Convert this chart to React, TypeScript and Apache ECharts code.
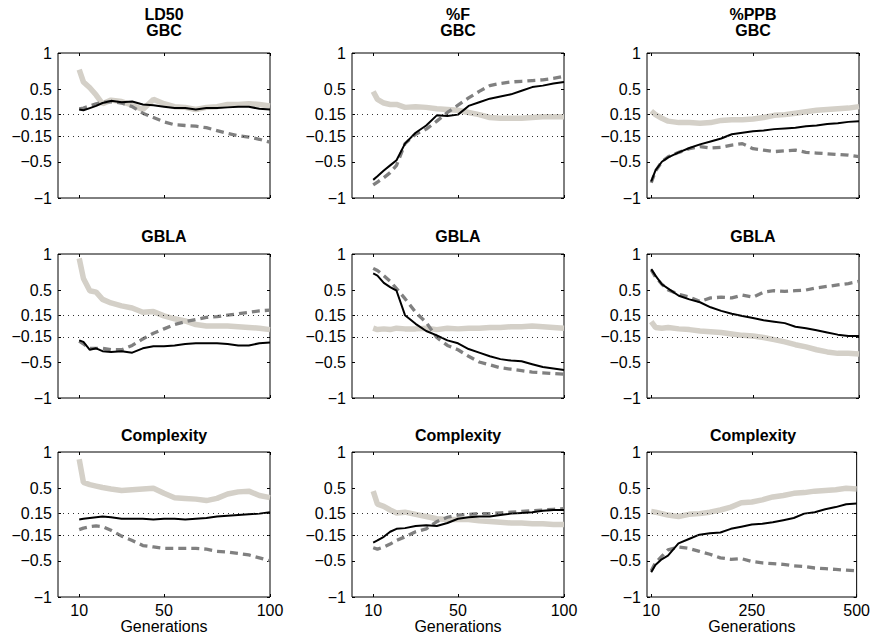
import React, { useEffect, useRef } from "react";
import * as echarts from "echarts";

// x positions (generations) at which values were read
const GEN_100 = [10, 12, 15, 18, 21, 25, 30, 35, 40, 45, 50, 55, 60, 65, 70, 75, 80, 85, 90, 95, 100];
const GEN_500 = [10, 20, 35, 50, 75, 100, 125, 150, 175, 200, 225, 250, 275, 300, 325, 350, 375, 400, 425, 450, 475, 500];

const Y_TICKS = [-1, -0.5, -0.15, 0.15, 0.5, 1];
const X_TICKS_100 = [10, 50, 100];
const X_TICKS_500 = [10, 250, 500];
const THRESHOLDS = [0.15, -0.15];

const TITLES = [
  ["LD50", "GBC"], ["%F", "GBC"], ["%PPB", "GBC"],
  ["GBLA"], ["GBLA"], ["GBLA"],
  ["Complexity"], ["Complexity"], ["Complexity"],
];

// Panel 1: LD50 / GBC
const p1Grey = [0.77, 0.6, 0.52, 0.42, 0.3, 0.35, 0.33, 0.28, 0.22, 0.36, 0.3, 0.26, 0.25, 0.22, 0.25, 0.26, 0.29, 0.29, 0.3, 0.29, 0.27];
const p1Black = [0.22, 0.21, 0.24, 0.27, 0.31, 0.34, 0.32, 0.33, 0.29, 0.28, 0.26, 0.24, 0.24, 0.22, 0.24, 0.24, 0.25, 0.26, 0.26, 0.23, 0.22];
const p1Dash = [0.23, 0.24, 0.27, 0.3, 0.32, 0.33, 0.31, 0.26, 0.17, 0.11, 0.05, 0.01, 0.0, -0.01, -0.03, -0.07, -0.11, -0.14, -0.16, -0.19, -0.23];

// Panel 2: %F / GBC
const p2Grey = [0.47, 0.36, 0.31, 0.29, 0.29, 0.25, 0.26, 0.25, 0.23, 0.22, 0.21, 0.18, 0.15, 0.11, 0.1, 0.1, 0.1, 0.11, 0.12, 0.12, 0.12];
const p2Black = [-0.75, -0.7, -0.62, -0.55, -0.48, -0.25, -0.1, 0.0, 0.14, 0.13, 0.15, 0.27, 0.32, 0.37, 0.4, 0.43, 0.48, 0.53, 0.55, 0.58, 0.6];
const p2Dash = [-0.82, -0.78, -0.72, -0.65, -0.55, -0.25, -0.12, -0.05, 0.06, 0.18, 0.28, 0.38, 0.47, 0.55, 0.58, 0.6, 0.61, 0.62, 0.63, 0.65, 0.68];

// Panel 3: %PPB / GBC
const p3Grey = [0.2, 0.15, 0.1, 0.06, 0.04, 0.04, 0.03, 0.04, 0.07, 0.08, 0.08, 0.09, 0.11, 0.14, 0.15, 0.17, 0.19, 0.21, 0.22, 0.23, 0.24, 0.26];
const p3Black = [-0.77, -0.62, -0.5, -0.44, -0.37, -0.31, -0.26, -0.22, -0.18, -0.12, -0.1, -0.08, -0.07, -0.05, -0.04, -0.03, -0.01, 0.0, 0.02, 0.03, 0.05, 0.06];
const p3Dash = [-0.79, -0.63, -0.5, -0.43, -0.37, -0.32, -0.29, -0.31, -0.3, -0.27, -0.25, -0.32, -0.34, -0.36, -0.35, -0.34, -0.37, -0.38, -0.39, -0.4, -0.41, -0.43];

// Panel 4: GBLA (LD50)
const p4Grey = [0.94, 0.66, 0.49, 0.47, 0.37, 0.32, 0.28, 0.25, 0.19, 0.2, 0.14, 0.1, 0.07, 0.02, 0.0, 0.0, 0.0, -0.01, -0.02, -0.03, -0.05];
const p4Black = [-0.2, -0.22, -0.33, -0.31, -0.35, -0.36, -0.35, -0.37, -0.31, -0.28, -0.28, -0.27, -0.25, -0.24, -0.24, -0.24, -0.25, -0.27, -0.27, -0.24, -0.23];
const p4Dash = [-0.21, -0.25, -0.31, -0.31, -0.31, -0.33, -0.33, -0.27, -0.18, -0.1, -0.04, 0.02, 0.06, 0.09, 0.12, 0.13, 0.15, 0.17, 0.19, 0.21, 0.22];

// Panel 5: GBLA (%F)
const p5Grey = [-0.03, -0.05, -0.04, -0.05, -0.03, -0.04, -0.04, -0.03, -0.05, -0.03, -0.04, -0.03, -0.03, -0.02, -0.02, -0.01, -0.01, 0.0, -0.01, -0.02, -0.03];
const p5Black = [0.73, 0.7, 0.6, 0.54, 0.49, 0.15, 0.03, -0.07, -0.13, -0.2, -0.24, -0.32, -0.37, -0.42, -0.46, -0.48, -0.49, -0.53, -0.57, -0.59, -0.61];
const p5Dash = [0.8, 0.77, 0.7, 0.62, 0.52, 0.38, 0.19, 0.05, -0.16, -0.27, -0.33, -0.42, -0.5, -0.54, -0.58, -0.6, -0.62, -0.64, -0.65, -0.66, -0.67];

// Panel 6: GBLA (%PPB)
const p6Grey = [0.06, -0.02, -0.03, -0.02, -0.04, -0.05, -0.07, -0.08, -0.09, -0.11, -0.13, -0.14, -0.16, -0.19, -0.22, -0.26, -0.29, -0.33, -0.36, -0.38, -0.38, -0.39];
const p6Black = [0.79, 0.7, 0.58, 0.52, 0.42, 0.37, 0.33, 0.26, 0.21, 0.17, 0.14, 0.11, 0.08, 0.06, 0.04, -0.01, -0.03, -0.06, -0.09, -0.12, -0.14, -0.14];
const p6Dash = [0.78, 0.68, 0.58, 0.5, 0.44, 0.4, 0.34, 0.39, 0.4, 0.39, 0.43, 0.4, 0.47, 0.49, 0.48, 0.49, 0.5, 0.53, 0.55, 0.57, 0.59, 0.62];

// Panel 7: Complexity (LD50)
const p7Grey = [0.9, 0.58, 0.55, 0.53, 0.51, 0.49, 0.47, 0.48, 0.49, 0.5, 0.43, 0.37, 0.36, 0.35, 0.33, 0.36, 0.42, 0.45, 0.46, 0.4, 0.37];
const p7Black = [0.07, 0.08, 0.09, 0.1, 0.11, 0.1, 0.08, 0.08, 0.08, 0.07, 0.08, 0.08, 0.07, 0.08, 0.09, 0.11, 0.12, 0.13, 0.14, 0.15, 0.17];
const p7Dash = [-0.07, -0.05, -0.03, -0.02, -0.03, -0.08, -0.16, -0.22, -0.29, -0.31, -0.33, -0.33, -0.33, -0.33, -0.34, -0.37, -0.38, -0.4, -0.42, -0.46, -0.5];

// Panel 8: Complexity (%F)
const p8Grey = [0.46, 0.28, 0.25, 0.2, 0.16, 0.17, 0.14, 0.11, 0.08, 0.07, 0.07, 0.07, 0.05, 0.04, 0.03, 0.02, 0.02, 0.01, 0.01, 0.0, 0.0];
const p8Black = [-0.25, -0.22, -0.17, -0.1, -0.06, -0.05, -0.02, -0.01, -0.02, 0.02, 0.08, 0.1, 0.11, 0.11, 0.13, 0.15, 0.16, 0.17, 0.19, 0.2, 0.2];
const p8Dash = [-0.32, -0.34, -0.31, -0.27, -0.22, -0.17, -0.1, -0.06, 0.04, 0.1, 0.13, 0.14, 0.15, 0.15, 0.16, 0.17, 0.18, 0.19, 0.2, 0.21, 0.22];

// Panel 9: Complexity (%PPB)
const p9Grey = [0.18, 0.17, 0.15, 0.13, 0.11, 0.14, 0.15, 0.17, 0.2, 0.24, 0.3, 0.31, 0.34, 0.38, 0.4, 0.43, 0.44, 0.46, 0.47, 0.48, 0.5, 0.49];
const p9Black = [-0.66, -0.56, -0.48, -0.43, -0.26, -0.2, -0.14, -0.12, -0.11, -0.06, -0.03, 0.0, 0.01, 0.03, 0.06, 0.09, 0.15, 0.17, 0.21, 0.24, 0.28, 0.29];
const p9Dash = [-0.64, -0.53, -0.44, -0.35, -0.31, -0.33, -0.37, -0.41, -0.46, -0.48, -0.47, -0.51, -0.53, -0.54, -0.55, -0.57, -0.58, -0.6, -0.61, -0.62, -0.63, -0.64];

const PANELS = [
  { gen: GEN_100, grey: p1Grey, black: p1Black, dash: p1Dash },
  { gen: GEN_100, grey: p2Grey, black: p2Black, dash: p2Dash },
  { gen: GEN_500, grey: p3Grey, black: p3Black, dash: p3Dash },
  { gen: GEN_100, grey: p4Grey, black: p4Black, dash: p4Dash },
  { gen: GEN_100, grey: p5Grey, black: p5Black, dash: p5Dash },
  { gen: GEN_500, grey: p6Grey, black: p6Black, dash: p6Dash },
  { gen: GEN_100, grey: p7Grey, black: p7Black, dash: p7Dash },
  { gen: GEN_100, grey: p8Grey, black: p8Black, dash: p8Dash },
  { gen: GEN_500, grey: p9Grey, black: p9Black, dash: p9Dash },
];

const COL_LEFT = [58, 352, 647];
const COL_W = 212;
const ROW_TOP = [53, 254, 452];
const ROW_H = [145, 144, 145];
const TITLE_Y = [[14, 30], [236], [435]];

const FONT = "'Liberation Sans', Arial, Helvetica, sans-serif";
const GREY = "#d4d0c8";
const DASH = "#808080";

function fmtY(v: number) {
  return v < 0 ? "\u2212" + String(-v) : String(v);
}

function buildOption() {
  const grid: any[] = [];
  const xAxis: any[] = [];
  const yAxis: any[] = [];
  const series: any[] = [];
  const graphic: any[] = [];

  PANELS.forEach((p, i) => {
    const r = Math.floor(i / 3);
    const c = i % 3;
    const left = COL_LEFT[c];
    const top = ROW_TOP[r];
    const h = ROW_H[r];
    const is500 = c === 2;
    const xmax = is500 ? 500 : 100;
    const xt = is500 ? X_TICKS_500 : X_TICKS_100;
    const bottomRow = r === 2;

    grid.push({
      left, top, width: COL_W, height: h,
      show: true, borderColor: "#000", borderWidth: 1, backgroundColor: "#fff",
      containLabel: false,
    });

    const tick = (vals: number[]) => ({
      show: true, inside: true, length: 3, customValues: vals,
      lineStyle: { color: "#000", width: 1 },
    });

    xAxis.push({
      type: "value", gridIndex: i, min: 0, max: xmax, position: "bottom",
      axisLine: { show: false, onZero: false },
      axisTick: tick(xt),
      axisLabel: {
        show: bottomRow, customValues: xt, margin: 5, color: "#000",
        fontSize: 16, fontFamily: FONT,
      },
      splitLine: { show: false },
      name: bottomRow ? "Generations" : "",
      nameLocation: "middle", nameGap: 21,
      nameTextStyle: { color: "#000", fontSize: 16, fontFamily: FONT },
    });
    xAxis.push({
      type: "value", gridIndex: i, min: 0, max: xmax, position: "top",
      axisLine: { show: false, onZero: false },
      axisTick: tick(xt),
      axisLabel: { show: false },
      splitLine: { show: false },
    });
    yAxis.push({
      type: "value", gridIndex: i, min: -1, max: 1, position: "left",
      axisLine: { show: false, onZero: false },
      axisTick: tick(Y_TICKS),
      axisLabel: {
        show: true, customValues: Y_TICKS, margin: 6, color: "#000",
        fontSize: 16, fontFamily: FONT, formatter: fmtY, hideOverlap: false,
      },
      splitLine: { show: false },
    });
    yAxis.push({
      type: "value", gridIndex: i, min: -1, max: 1, position: "right",
      axisLine: { show: false, onZero: false },
      axisTick: tick(Y_TICKS),
      axisLabel: { show: false },
      splitLine: { show: false },
    });

    const xi = 2 * i;
    const yi = 2 * i;
    const pts = (vals: number[]) => vals.map((v, k) => [p.gen[k], v]);

    series.push({
      type: "line", xAxisIndex: xi, yAxisIndex: yi, data: pts(p.grey),
      symbol: "none", showSymbol: false, silent: true,
      lineStyle: { color: GREY, width: 5.5 }, z: 2,
      markLine: {
        silent: true, symbol: ["none", "none"], label: { show: false },
        lineStyle: { type: [1, 4], color: "#333", width: 1 },
        data: THRESHOLDS.map((t) => ({ yAxis: t })),
      },
    });
    series.push({
      type: "line", xAxisIndex: xi, yAxisIndex: yi, data: pts(p.dash),
      symbol: "none", showSymbol: false, silent: true,
      lineStyle: { color: DASH, width: 3.3, type: [8, 5] }, z: 3,
    });
    series.push({
      type: "line", xAxisIndex: xi, yAxisIndex: yi, data: pts(p.black),
      symbol: "none", showSymbol: false, silent: true,
      lineStyle: { color: "#000", width: 2 }, z: 4,
    });

    TITLES[i].forEach((t, k) => {
      graphic.push({
        type: "text",
        x: left + COL_W / 2,
        y: TITLE_Y[r][k],
        style: {
          text: t, fill: "#000", font: `bold 16px ${FONT}`,
          textAlign: "center", textVerticalAlign: "middle",
        },
      });
    });
  });

  return {
    animation: false,
    backgroundColor: "#fff",
    grid, xAxis, yAxis, series, graphic,
  };
}

export default function App() {
  const ref = useRef<HTMLDivElement>(null);
  useEffect(() => {
    document.body.style.margin = "0";
    const chart = echarts.init(ref.current!, null, { renderer: "svg" });
    chart.setOption(buildOption() as any);
    return () => chart.dispose();
  }, []);
  return <div ref={ref} style={{ width: 873, height: 642 }} />;
}
